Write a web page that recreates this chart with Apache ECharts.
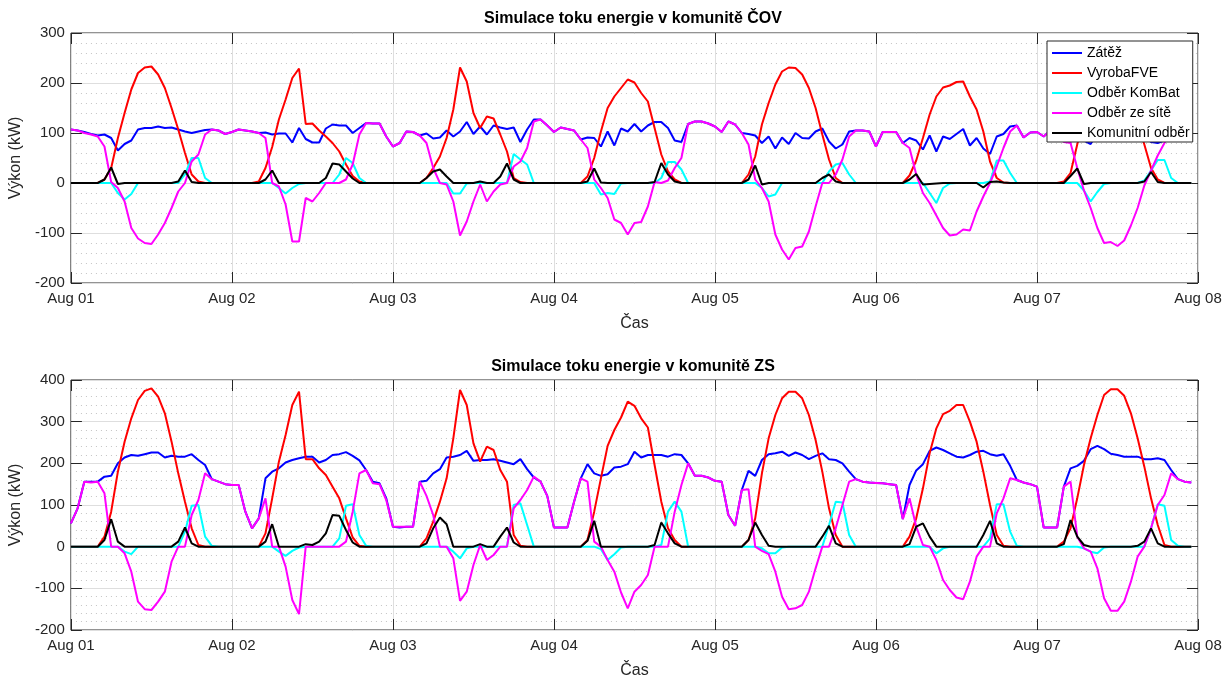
<!DOCTYPE html>
<html>
<head>
<meta charset="utf-8">
<script src="https://cdn.jsdelivr.net/npm/echarts@6.0.0/dist/echarts.min.js"></script>
<style>
html,body{margin:0;padding:0;background:#fff;}
#chart{width:1231px;height:682px;}
</style>
</head>
<body>
<div id="chart"></div>
<script>
// ---- tick labels / names ----
const dayLabels = ['Aug 01','Aug 02','Aug 03','Aug 04','Aug 05','Aug 06','Aug 07','Aug 08'];
const seriesNames = ['Zátěž','VyrobaFVE','Odběr KomBat','Odběr ze sítě','Komunitní odběr'];
const titles = ['Simulace toku energie v komunitě ČOV','Simulace toku energie v komunitě ZS'];

// ---- ČOV (top), hourly values from Aug 01 00:00 ----
const covZatez = [
107,105,102,98,95,97,90,65,78,85,107,110,
110,113,110,111,107,103,100,103,106,107,105,98,
102,107,105,103,100,101,97,99,99,81,110,88,
81,81,109,117,115,115,100,110,120,119,119,93,
73,80,103,102,95,99,89,91,105,93,103,122,
98,113,97,115,111,108,111,82,107,127,127,115,
102,111,108,105,87,91,90,73,103,75,109,103,
118,103,115,122,122,110,85,82,118,123,123,119,
113,102,123,117,100,98,95,80,93,69,91,78,
100,90,89,103,109,83,69,77,103,105,105,103,
73,102,102,102,80,90,85,67,95,63,93,88,
98,108,75,90,69,58,93,98,113,115,91,101,
102,93,105,105,85,82,100,85,78,100,110,105,
100,112,108,98,95,82,80,85,100,112,108,102];
const covFVE = [
0,0,0,0,0,7,30,90,140,187,220,231,
233,217,190,150,107,60,17,3,0,0,0,0,
0,0,0,0,3,30,72,127,167,210,229,118,
119,105,93,80,63,37,14,3,0,0,0,0,
0,0,0,0,0,10,30,53,90,147,231,203,
140,110,133,129,97,63,10,2,0,0,0,0,
0,0,0,0,0,13,50,103,150,173,190,207,
201,180,163,110,57,23,7,0,0,0,0,0,
0,0,0,0,0,17,53,117,160,197,223,231,
230,217,190,150,97,47,10,0,0,0,0,0,
0,0,0,0,0,15,45,90,137,173,191,195,
202,203,173,147,103,43,10,1,0,0,0,0,
0,0,0,0,3,20,77,130,175,210,228,232,
225,200,165,120,77,30,7,0,0,0,0,0];
const covKomBat = [
0,0,0,0,0,0,0,-20,-33,-22,0,0,
0,0,0,0,0,17,50,50,10,0,0,0,
0,0,0,0,0,0,0,-10,-21,-10,-2,0,
0,0,0,0,17,50,40,10,0,0,0,0,
0,0,0,0,0,0,0,0,0,-21,-21,-1,
0,0,0,0,0,0,58,47,37,0,0,0,
0,0,0,0,0,0,0,-23,-20,-22,-1,0,
0,0,0,0,10,42,42,27,0,0,0,0,
0,0,0,0,0,0,0,-10,-27,-23,0,0,
0,0,0,0,0,23,37,40,17,0,0,0,
0,0,0,0,0,0,0,0,-20,-40,-10,-1,
0,0,0,0,0,3,45,45,20,0,0,0,
0,0,0,0,0,0,0,-15,-37,-18,-2,0,
0,0,0,0,5,25,46,46,10,0,0,0];
const covSit = [
107,105,100,97,93,73,2,-10,-37,-90,-111,-120,
-122,-103,-80,-50,-17,0,43,57,97,107,105,98,
102,107,105,103,100,90,0,-7,-43,-117,-117,-30,
-37,-20,0,0,0,7,37,97,120,119,119,93,
73,80,103,102,95,80,30,0,-3,-37,-105,-77,
-37,-3,-37,-17,-3,0,33,43,70,123,127,115,
102,111,108,105,87,70,7,-10,-30,-73,-80,-103,
-80,-78,-47,2,0,5,30,50,118,123,123,119,
113,102,123,117,100,77,7,-10,-37,-103,-133,-153,
-130,-127,-97,-47,0,0,17,47,93,105,105,103,
73,102,102,102,80,70,17,-20,-40,-65,-90,-105,
-103,-93,-95,-57,-27,0,33,70,103,115,91,101,
102,93,105,105,82,80,30,-15,-50,-90,-120,-118,
-126,-115,-85,-50,-5,25,55,80,100,112,108,102];
const covKomunita = [
0,0,0,0,0,7,31,-2,0,0,0,0,
0,0,0,0,3,25,2,0,0,0,0,0,
0,0,0,0,0,7,25,0,0,0,0,0,
0,0,10,39,37,23,9,0,0,0,0,0,
0,0,0,0,0,10,23,27,13,0,0,0,
0,3,0,0,13,39,7,0,0,0,0,0,
0,0,0,0,0,3,29,1,0,0,0,0,
0,0,0,2,40,17,3,0,0,0,0,0,
0,0,0,0,0,7,35,-3,0,0,0,0,
0,0,0,0,10,17,3,0,0,0,0,0,
0,0,0,0,0,7,18,-3,-2,-1,0,0,
0,0,0,0,-9,2,3,1,0,0,0,0,
0,0,0,0,0,14,29,-2,0,0,0,0,
0,0,0,0,3,22,2,0,0,0,0,0];

// ---- ZS (bottom) ----
const zsZatez = [
56,92,156,156,156,168,170,200,214,220,218,222,
226,226,214,218,216,216,222,208,196,162,156,150,
148,148,84,44,68,164,180,188,202,208,212,216,
216,202,208,220,222,227,218,207,184,156,152,116,
48,46,48,48,156,158,176,186,214,216,220,230,
206,208,208,210,206,202,198,210,186,166,156,122,
46,46,46,108,164,198,176,170,174,190,192,198,
228,214,220,220,220,216,222,220,200,170,170,166,
158,156,76,50,136,182,170,208,222,224,228,218,
226,220,210,218,224,210,208,200,180,162,156,154,
153,152,150,148,66,148,183,198,230,238,232,224,
216,214,220,228,230,222,218,222,194,160,154,150,
144,46,46,46,144,188,194,206,234,242,234,223,
220,216,216,216,210,210,212,208,184,162,156,154];
const zsFVE = [
0,0,0,0,0,24,84,180,252,308,352,374,
380,360,320,252,176,108,44,4,0,0,0,0,
0,0,0,0,0,32,116,204,268,340,372,210,
210,188,172,144,116,68,22,2,0,0,0,0,
0,0,0,0,0,20,60,108,164,260,376,340,
248,204,240,232,184,156,28,2,0,0,0,0,
0,0,0,0,0,16,84,164,242,280,310,348,
338,308,286,196,108,44,16,0,0,0,0,0,
0,0,0,0,0,16,68,176,260,316,356,372,
372,356,316,256,180,92,28,0,0,0,0,0,
0,0,0,0,0,24,68,140,224,284,318,326,
340,340,300,252,180,100,28,2,0,0,0,0,
0,0,0,0,12,44,116,196,260,316,364,378,
378,362,320,260,192,116,52,4,0,0,0,0];
const zsKomBat = [
0,0,0,0,0,0,0,0,-12,-18,0,0,
0,0,0,0,0,36,98,100,24,2,0,0,
0,0,0,0,0,0,0,-12,-22,-10,-2,0,
0,0,0,0,20,98,102,28,2,0,0,0,
0,0,0,0,0,0,0,0,0,-12,-28,-4,
0,0,0,0,0,0,100,104,52,0,0,0,
0,0,0,0,0,0,0,-6,-32,-18,-2,0,
0,0,0,0,4,84,108,84,0,0,0,0,
0,0,0,0,0,0,0,-4,-16,-16,-2,0,
0,0,0,0,0,52,108,106,28,0,0,0,
0,0,0,0,0,0,0,0,0,-16,-4,0,
0,0,0,0,0,20,102,102,36,2,0,0,
0,0,0,0,0,0,0,-4,-12,-16,-2,0,
0,0,0,0,0,44,102,98,16,2,0,0];
const zsSit = [
56,92,156,154,156,128,0,0,-16,-60,-132,-150,
-152,-132,-108,-36,0,0,76,112,176,162,156,150,
148,148,84,44,68,116,0,0,-48,-128,-162,0,
0,0,0,0,0,12,84,176,184,152,150,112,
48,48,48,48,156,122,76,0,0,-28,-130,-108,
-44,4,-32,-20,0,0,92,112,136,168,156,122,
46,46,46,108,164,156,12,0,-32,-60,-110,-148,
-108,-92,-68,0,0,0,84,148,200,170,170,166,
158,156,76,50,136,138,0,-10,-18,-60,-120,-150,
-148,-140,-108,-52,0,0,44,100,156,162,156,154,
153,152,150,148,66,116,48,4,0,-32,-80,-104,
-122,-126,-84,-24,0,0,80,116,164,160,154,150,
144,46,46,46,144,156,24,-4,-12,-52,-124,-154,
-154,-132,-84,-24,0,44,100,124,176,162,156,154];
const zsKomunita = [
0,0,0,0,0,16,66,12,0,0,0,0,
0,0,0,0,12,46,8,0,0,0,0,0,
0,0,0,0,0,12,54,0,0,0,0,6,
4,12,32,76,74,40,10,0,0,0,0,0,
0,0,0,0,0,8,44,70,54,0,0,0,
0,6,0,0,24,46,10,0,0,0,0,0,
0,0,0,0,0,14,62,0,0,0,0,0,
0,0,0,4,58,32,8,0,0,0,0,0,
0,0,0,0,0,16,58,28,2,0,0,0,
0,0,0,0,24,50,8,0,0,0,0,0,
0,0,0,0,0,6,48,56,24,0,0,0,
0,0,0,0,28,62,8,0,0,0,0,0,
0,0,0,0,6,64,24,4,0,0,0,0,
0,0,0,2,12,44,8,0,0,0,0,0];

// ---- build chart ----
const FONT = "'Liberation Sans', Arial, Helvetica, sans-serif";
const colors = ['#0000ff','#ff0000','#00ffff','#ff00ff','#000000'];
const INK = '#262626';
const toPairs = arr => arr.map((v, i) => [i, v]);

const chart = echarts.init(document.getElementById('chart'), null, {renderer: 'canvas'});

const tickStyle = {show: true, inside: true, length: 11, lineStyle: {color: INK, width: 1}};

function xMain(gi) {
  return {
    gridIndex: gi, type: 'value', position: 'bottom', min: 0, max: 168, interval: 24,
    axisLine: {show: false, onZero: false},
    axisTick: tickStyle,
    axisLabel: {formatter: v => dayLabels[Math.round(v / 24)], margin: 8, fontSize: 15, color: INK, fontFamily: FONT},
    splitLine: {show: true, lineStyle: {color: '#dedede', width: 1}},
    name: 'Čas', nameLocation: 'middle', nameGap: 33,
    nameTextStyle: {fontSize: 16, color: INK, fontFamily: FONT}
  };
}
function xTop(gi) {
  return {
    gridIndex: gi, type: 'value', position: 'top', min: 0, max: 168, interval: 24,
    axisLine: {show: false, onZero: false},
    axisTick: tickStyle,
    axisLabel: {show: false}, splitLine: {show: false}
  };
}
function yMain(gi, mn, mx) {
  return {
    gridIndex: gi, type: 'value', position: 'left', min: mn, max: mx, interval: 100,
    axisLine: {show: false, onZero: false},
    axisTick: tickStyle,
    axisLabel: {margin: 6, fontSize: 15, color: INK, fontFamily: FONT},
    splitLine: {show: true, lineStyle: {color: '#dedede', width: 1}},
    minorTick: {show: false, splitNumber: 5},
    minorSplitLine: {show: true, lineStyle: {color: '#c4c4c4', width: 1, type: [1, 4]}},
    name: 'Výkon (kW)', nameLocation: 'middle', nameGap: 34,
    nameTextStyle: {fontSize: 16, color: INK, fontFamily: FONT}
  };
}
function yRight(gi, mn, mx) {
  return {
    gridIndex: gi, type: 'value', position: 'right', min: mn, max: mx, interval: 100,
    axisLine: {show: false, onZero: false},
    axisTick: tickStyle,
    axisLabel: {show: false}, splitLine: {show: false}
  };
}

const covData = [covZatez, covFVE, covKomBat, covSit, covKomunita];
const zsData = [zsZatez, zsFVE, zsKomBat, zsSit, zsKomunita];
const series = [];
covData.forEach((arr, k) => series.push({
  name: seriesNames[k], type: 'line', xAxisIndex: 0, yAxisIndex: 0,
  data: toPairs(arr), showSymbol: false, symbol: 'none',
  lineStyle: {color: colors[k], width: 2}, itemStyle: {color: colors[k]}, z: 2 + k * 0.01
}));
zsData.forEach((arr, k) => series.push({
  name: seriesNames[k], type: 'line', xAxisIndex: 2, yAxisIndex: 2,
  data: toPairs(arr), showSymbol: false, symbol: 'none',
  lineStyle: {color: colors[k], width: 2}, itemStyle: {color: colors[k]}, z: 2 + k * 0.01
}));

chart.setOption({
  animation: false,
  backgroundColor: '#ffffff',
  title: [
    {text: titles[0], left: 633, top: 11, textAlign: 'center', padding: 0,
     textStyle: {fontSize: 16, fontWeight: 'bold', color: '#000', fontFamily: FONT}},
    {text: titles[1], left: 633, top: 359, textAlign: 'center', padding: 0,
     textStyle: {fontSize: 16, fontWeight: 'bold', color: '#000', fontFamily: FONT}}
  ],
  legend: {
    data: seriesNames, orient: 'vertical', left: 1047, top: 41,
    icon: 'rect', itemWidth: 30, itemHeight: 2, itemGap: 4,
    padding: [4, 3, 1, 5], selectedMode: false,
    backgroundColor: '#ffffff', borderColor: INK, borderWidth: 1,
    textStyle: {fontSize: 14, color: '#000', fontFamily: FONT, lineHeight: 16},
    z: 10
  },
  grid: [
    {left: 68, top: 33, width: 1130, height: 250, show: true, borderColor: INK, borderWidth: 1, backgroundColor: 'transparent'},
    {left: 68, top: 380, width: 1130, height: 250, show: true, borderColor: INK, borderWidth: 1, backgroundColor: 'transparent'}
  ],
  xAxis: [xMain(0), xTop(0), xMain(1), xTop(1)],
  yAxis: [yMain(0, -200, 300), yRight(0, -200, 300), yMain(1, -200, 400), yRight(1, -200, 400)],
  series: series
});
</script>
</body>
</html>
